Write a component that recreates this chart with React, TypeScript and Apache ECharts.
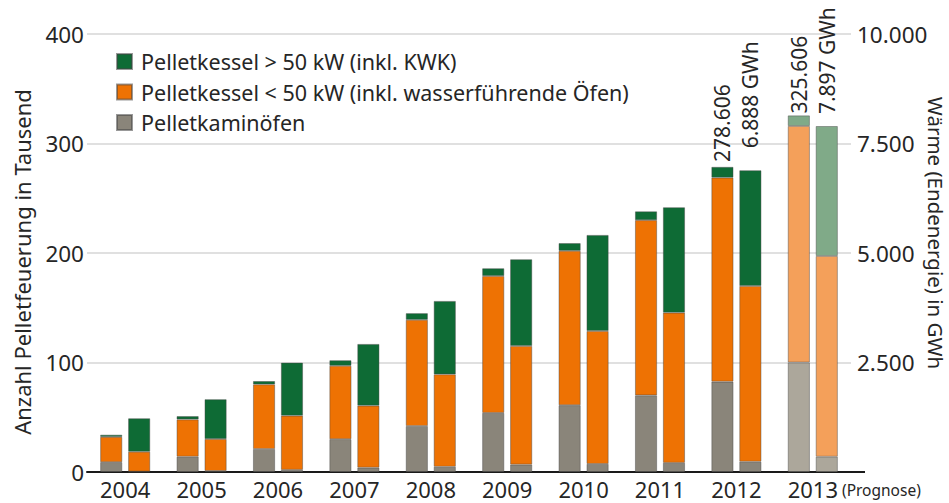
import React, { useEffect, useRef } from "react";
import * as echarts from "echarts";

const years = ["2004", "2005", "2006", "2007", "2008", "2009", "2010", "2011", "2012", "2013"];

// Anzahl (in Tausend)
const countKaminoefen = [9, 14, 21, 30, 42, 54, 61, 70, 82.5, 100];
const countKesselKlein = [23, 34, 59, 67, 97, 125, 141, 160, 186.3, 216];
const countKesselGross = [2, 3, 3, 5, 6, 7, 7, 8, 9.806, 9.606];

// Wärme (GWh)
const energyKaminoefen = [10, 25, 50, 100, 120, 170, 185, 210, 235, 350];
const energyKesselKlein = [453, 728, 1235, 1414, 2110, 2707, 3034, 3427, 4012, 4582];
const energyKesselGross = [762, 907, 1210, 1408, 1674, 1979, 2192, 2406, 2641, 2965];

const leftTicks = [0, 100, 200, 300, 400];
const rightTicks = [0, 2500, 5000, 7500, 10000];

const names = [
  "Pelletkessel > 50 kW (inkl. KWK)",
  "Pelletkessel < 50 kW (inkl. wasserführende Öfen)",
  "Pelletkaminöfen",
];

const colors = { gross: "#0e6b35", klein: "#ee7203", kamin: "#8a857a" };
const lightColors = { gross: "#80aa88", klein: "#f4a05a", kamin: "#aca79b" };

const labelYears = [8, 9];
const countLabelDist = [5, 2];
const energyLabelDist = [22, 12];

const fmt = (n: number) => String(Math.round(n)).replace(/\B(?=(\d{3})+(?!\d))/g, ".");

const TEXT = "#262626";
const FONT = "Noto Sans";

export default function App() {
  const ref = useRef<HTMLDivElement>(null);

  useEffect(() => {
    if (!ref.current) return;
    const chart = echarts.init(ref.current, null, { renderer: "svg" });

    const mk = (
      vals: number[],
      key: "gross" | "klein" | "kamin",
      top: boolean,
      kind: "count" | "energy"
    ) =>
      vals.map((v, i) => {
        const item: any = { value: v };
        if (i === 9) item.itemStyle = { color: lightColors[key] };
        const li = labelYears.indexOf(i);
        if (top && li >= 0) {
          const total =
            kind === "count"
              ? (countKaminoefen[i] + countKesselKlein[i] + countKesselGross[i]) * 1000
              : energyKaminoefen[i] + energyKesselKlein[i] + energyKesselGross[i];
          item.label = {
            show: true,
            position: "top",
            rotate: 90,
            align: "left",
            verticalAlign: "middle",
            distance: kind === "count" ? countLabelDist[li] : energyLabelDist[li],
            formatter: kind === "count" ? fmt(total) : fmt(total) + " GWh",
            fontSize: 21,
            fontFamily: FONT,
            color: TEXT,
          };
        }
        return item;
      });

    const base = {
      type: "bar",
      barWidth: 22,
      barGap: "27%",
      xAxisIndex: 0,
    };
    const border = { borderColor: "rgba(70,70,70,0.55)", borderWidth: 0.8 };

    const series: any[] = [
      { ...base, name: names[2], stack: "count", yAxisIndex: 0, itemStyle: { color: colors.kamin, ...border }, data: mk(countKaminoefen, "kamin", false, "count") },
      { ...base, name: names[1], stack: "count", yAxisIndex: 0, itemStyle: { color: colors.klein, ...border }, data: mk(countKesselKlein, "klein", false, "count") },
      { ...base, name: names[0], stack: "count", yAxisIndex: 0, itemStyle: { color: colors.gross, ...border }, data: mk(countKesselGross, "gross", true, "count") },
      { ...base, name: names[2], stack: "energy", yAxisIndex: 1, itemStyle: { color: colors.kamin, ...border }, data: mk(energyKaminoefen, "kamin", false, "energy") },
      { ...base, name: names[1], stack: "energy", yAxisIndex: 1, itemStyle: { color: colors.klein, ...border }, data: mk(energyKesselKlein, "klein", false, "energy") },
      { ...base, name: names[0], stack: "energy", yAxisIndex: 1, itemStyle: { color: colors.gross, ...border }, data: mk(energyKesselGross, "gross", true, "energy") },
    ];

    chart.setOption({
      animation: false,
      backgroundColor: "#ffffff",
      textStyle: { fontFamily: FONT, color: TEXT },
      grid: { left: 87, right: 98, top: 34, bottom: 31, containLabel: false },
      legend: {
        data: names,
        orient: "vertical",
        left: 111,
        top: 45,
        itemWidth: 15,
        itemHeight: 15,
        itemGap: 7.5,
        icon: "rect",
        selectedMode: false,
        textStyle: { fontSize: 21.5, fontFamily: FONT, color: TEXT, lineHeight: 23, padding: [0, 0, 0, 4] },
      },
      xAxis: {
        type: "category",
        data: years,
        axisLine: { lineStyle: { color: "#1a1a1a", width: 2 } },
        axisTick: { show: false },
        axisLabel: { fontSize: 22, lineHeight: 22, fontFamily: FONT, color: TEXT, margin: 6 },
      },
      yAxis: [
        {
          type: "value",
          min: leftTicks[0],
          max: leftTicks[leftTicks.length - 1],
          interval: 100,
          axisLine: { show: false },
          axisTick: { show: false },
          splitLine: { lineStyle: { color: "#d6d6d6", width: 1.5 } },
          axisLabel: { fontSize: 22.5, fontFamily: FONT, color: TEXT, margin: 3, padding: [8, 0, 0, 0] },
        },
        {
          type: "value",
          position: "right",
          min: rightTicks[0],
          max: rightTicks[rightTicks.length - 1],
          interval: 2500,
          axisLine: { show: false },
          axisTick: { show: false },
          splitLine: { show: false },
          axisLabel: {
            fontSize: 22.5,
            fontFamily: FONT,
            color: TEXT,
            margin: 6,
            padding: [8, 0, 0, 0],
            formatter: (v: number) => (v === 0 ? "" : fmt(v)),
          },
        },
      ],
      graphic: [
        {
          type: "text",
          x: 22,
          y: 262,
          rotation: Math.PI / 2,
          style: { text: "Anzahl Pelletfeuerung in Tausend", fontSize: 22, fontFamily: FONT, fill: TEXT, align: "center", verticalAlign: "middle" },
        },
        {
          type: "text",
          x: 936,
          y: 233,
          rotation: -Math.PI / 2,
          style: { text: "Wärme (Endenergie) in GWh", fontSize: 20.5, fontFamily: FONT, fill: TEXT, align: "center", verticalAlign: "middle" },
        },
        {
          type: "text",
          x: 842,
          y: 490,
          style: { text: "(Prognose)", fontSize: 15.5, fontFamily: FONT, fill: TEXT, align: "left", verticalAlign: "middle" },
        },
        {
          type: "line",
          shape: { x1: 850, y1: 472, x2: 865, y2: 472 },
          style: { stroke: "#1a1a1a", lineWidth: 2 },
        },
      ],
      series,
    });

    return () => chart.dispose();
  }, []);

  return (
    <div
      ref={ref}
      style={{ position: "fixed", left: 0, top: 0, width: 949, height: 503, background: "#fff" }}
    />
  );
}
